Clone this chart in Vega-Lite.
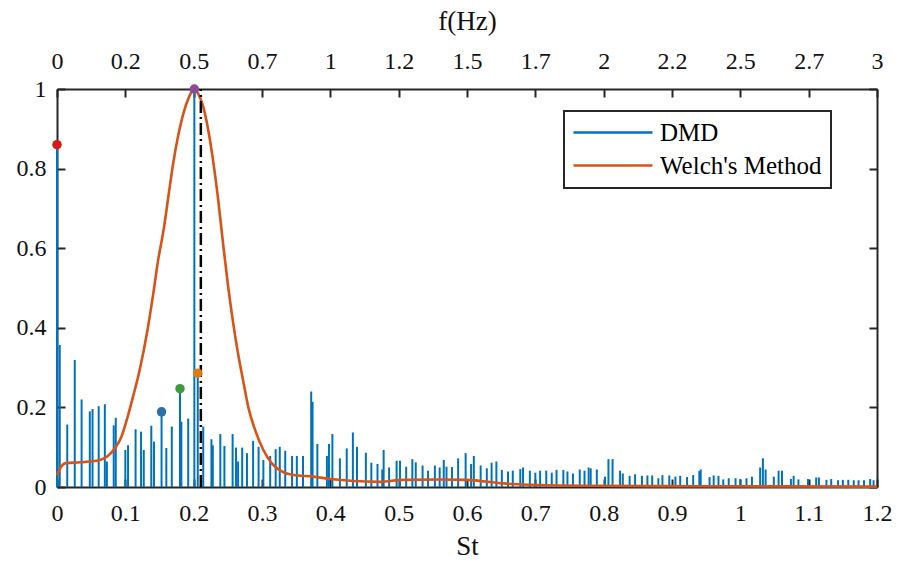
{
  "$schema": "https://vega.github.io/schema/vega-lite/v6.json",
  "width": 820,
  "height": 398,
  "autosize": "none",
  "padding": {"left": 57, "top": 89, "right": 20, "bottom": 78},
  "background": "white",
  "config": {
    "font": "Liberation Serif",
    "view": {"stroke": null},
    "legend": {"strokeWidth": 2},
    "axis": {
      "grid": false,
      "labelFlush": false,
      "domainColor": "#262626",
      "domainWidth": 2,
      "tickColor": "#262626",
      "tickWidth": 2,
      "tickSize": -8,
      "labelFont": "Liberation Serif",
      "labelFontSize": 24,
      "labelColor": "#111111",
      "titleFont": "Liberation Serif",
      "titleFontSize": 27,
      "titleFontWeight": "normal",
      "titleColor": "#111111"
    }
  },
  "datasets": {
    "dmd": [
      {"St": 0.000, "amp": 0.86}, {"St": 0.004, "amp": 0.357}, {"St": 0.015, "amp": 0.157}, {"St": 0.026, "amp": 0.319},
      {"St": 0.036, "amp": 0.22}, {"St": 0.048, "amp": 0.19}, {"St": 0.052, "amp": 0.196}, {"St": 0.061, "amp": 0.203},
      {"St": 0.070, "amp": 0.208}, {"St": 0.073, "amp": 0.064}, {"St": 0.083, "amp": 0.155}, {"St": 0.086, "amp": 0.174},
      {"St": 0.100, "amp": 0.093}, {"St": 0.104, "amp": 0.105}, {"St": 0.115, "amp": 0.145}, {"St": 0.123, "amp": 0.139},
      {"St": 0.127, "amp": 0.093}, {"St": 0.138, "amp": 0.154}, {"St": 0.142, "amp": 0.114}, {"St": 0.153, "amp": 0.189},
      {"St": 0.160, "amp": 0.098}, {"St": 0.168, "amp": 0.152}, {"St": 0.180, "amp": 0.247}, {"St": 0.182, "amp": 0.164},
      {"St": 0.192, "amp": 0.172}, {"St": 0.201, "amp": 1.0}, {"St": 0.206, "amp": 0.286}, {"St": 0.214, "amp": 0.152},
      {"St": 0.226, "amp": 0.12}, {"St": 0.228, "amp": 0.105}, {"St": 0.239, "amp": 0.133}, {"St": 0.245, "amp": 0.103},
      {"St": 0.257, "amp": 0.133}, {"St": 0.262, "amp": 0.099}, {"St": 0.265, "amp": 0.064}, {"St": 0.271, "amp": 0.099},
      {"St": 0.278, "amp": 0.085}, {"St": 0.287, "amp": 0.116}, {"St": 0.295, "amp": 0.101}, {"St": 0.302, "amp": 0.068},
      {"St": 0.312, "amp": 0.078}, {"St": 0.320, "amp": 0.095}, {"St": 0.326, "amp": 0.101}, {"St": 0.334, "amp": 0.091},
      {"St": 0.344, "amp": 0.078}, {"St": 0.351, "amp": 0.078}, {"St": 0.360, "amp": 0.078}, {"St": 0.372, "amp": 0.24},
      {"St": 0.374, "amp": 0.214}, {"St": 0.381, "amp": 0.108}, {"St": 0.395, "amp": 0.078}, {"St": 0.398, "amp": 0.108},
      {"St": 0.403, "amp": 0.133}, {"St": 0.414, "amp": 0.072}, {"St": 0.424, "amp": 0.097}, {"St": 0.433, "amp": 0.137},
      {"St": 0.439, "amp": 0.101}, {"St": 0.452, "amp": 0.086}, {"St": 0.460, "amp": 0.061}, {"St": 0.469, "amp": 0.058},
      {"St": 0.476, "amp": 0.044}, {"St": 0.478, "amp": 0.093}, {"St": 0.486, "amp": 0.049}, {"St": 0.497, "amp": 0.066},
      {"St": 0.502, "amp": 0.066}, {"St": 0.511, "amp": 0.051}, {"St": 0.520, "amp": 0.07}, {"St": 0.525, "amp": 0.062},
      {"St": 0.535, "amp": 0.054}, {"St": 0.543, "amp": 0.041}, {"St": 0.553, "amp": 0.054}, {"St": 0.560, "amp": 0.049},
      {"St": 0.566, "amp": 0.068}, {"St": 0.570, "amp": 0.051}, {"St": 0.578, "amp": 0.05}, {"St": 0.587, "amp": 0.072},
      {"St": 0.598, "amp": 0.085}, {"St": 0.606, "amp": 0.058}, {"St": 0.610, "amp": 0.078}, {"St": 0.620, "amp": 0.054},
      {"St": 0.629, "amp": 0.047}, {"St": 0.636, "amp": 0.061}, {"St": 0.643, "amp": 0.064}, {"St": 0.651, "amp": 0.043},
      {"St": 0.660, "amp": 0.039}, {"St": 0.667, "amp": 0.041}, {"St": 0.678, "amp": 0.045}, {"St": 0.682, "amp": 0.049},
      {"St": 0.692, "amp": 0.041}, {"St": 0.700, "amp": 0.036}, {"St": 0.707, "amp": 0.041}, {"St": 0.716, "amp": 0.041},
      {"St": 0.724, "amp": 0.036}, {"St": 0.731, "amp": 0.043}, {"St": 0.741, "amp": 0.043}, {"St": 0.747, "amp": 0.039},
      {"St": 0.755, "amp": 0.034}, {"St": 0.765, "amp": 0.044}, {"St": 0.772, "amp": 0.041}, {"St": 0.778, "amp": 0.049},
      {"St": 0.781, "amp": 0.047}, {"St": 0.790, "amp": 0.044}, {"St": 0.802, "amp": 0.026}, {"St": 0.807, "amp": 0.07},
      {"St": 0.813, "amp": 0.07}, {"St": 0.824, "amp": 0.041}, {"St": 0.828, "amp": 0.034}, {"St": 0.838, "amp": 0.028},
      {"St": 0.846, "amp": 0.032}, {"St": 0.856, "amp": 0.028}, {"St": 0.864, "amp": 0.029}, {"St": 0.871, "amp": 0.029},
      {"St": 0.880, "amp": 0.022}, {"St": 0.886, "amp": 0.03}, {"St": 0.896, "amp": 0.029}, {"St": 0.905, "amp": 0.026},
      {"St": 0.912, "amp": 0.028}, {"St": 0.922, "amp": 0.025}, {"St": 0.931, "amp": 0.03}, {"St": 0.940, "amp": 0.04},
      {"St": 0.942, "amp": 0.044}, {"St": 0.955, "amp": 0.025}, {"St": 0.961, "amp": 0.029}, {"St": 0.968, "amp": 0.028},
      {"St": 0.975, "amp": 0.019}, {"St": 0.983, "amp": 0.022}, {"St": 0.993, "amp": 0.022}, {"St": 1.000, "amp": 0.02},
      {"St": 1.009, "amp": 0.022}, {"St": 1.017, "amp": 0.026}, {"St": 1.029, "amp": 0.049}, {"St": 1.033, "amp": 0.072},
      {"St": 1.037, "amp": 0.044}, {"St": 1.049, "amp": 0.026}, {"St": 1.056, "amp": 0.041}, {"St": 1.061, "amp": 0.041},
      {"St": 1.074, "amp": 0.02}, {"St": 1.078, "amp": 0.028}, {"St": 1.085, "amp": 0.019}, {"St": 1.099, "amp": 0.02},
      {"St": 1.111, "amp": 0.024}, {"St": 1.115, "amp": 0.024}, {"St": 1.126, "amp": 0.018}, {"St": 1.133, "amp": 0.02},
      {"St": 1.143, "amp": 0.017}, {"St": 1.150, "amp": 0.018}, {"St": 1.158, "amp": 0.018}, {"St": 1.166, "amp": 0.017},
      {"St": 1.173, "amp": 0.017}, {"St": 1.181, "amp": 0.017}, {"St": 1.190, "amp": 0.02}, {"St": 1.195, "amp": 0.017}
    ],
    "welch": [
      {"St": 0.000, "psd": 0.03}, {"St": 0.004, "psd": 0.045}, {"St": 0.013, "psd": 0.06}, {"St": 0.034, "psd": 0.062},
      {"St": 0.048, "psd": 0.064}, {"St": 0.063, "psd": 0.068}, {"St": 0.073, "psd": 0.076}, {"St": 0.085, "psd": 0.098},
      {"St": 0.094, "psd": 0.125}, {"St": 0.102, "psd": 0.168}, {"St": 0.111, "psd": 0.225}, {"St": 0.121, "psd": 0.294},
      {"St": 0.132, "psd": 0.39}, {"St": 0.141, "psd": 0.487}, {"St": 0.148, "psd": 0.57}, {"St": 0.156, "psd": 0.646},
      {"St": 0.163, "psd": 0.73}, {"St": 0.170, "psd": 0.813}, {"St": 0.177, "psd": 0.88}, {"St": 0.185, "psd": 0.939},
      {"St": 0.192, "psd": 0.975}, {"St": 0.197, "psd": 0.993}, {"St": 0.201, "psd": 1.0}, {"St": 0.206, "psd": 0.99},
      {"St": 0.214, "psd": 0.955}, {"St": 0.221, "psd": 0.9}, {"St": 0.229, "psd": 0.813}, {"St": 0.236, "psd": 0.72},
      {"St": 0.243, "psd": 0.612}, {"St": 0.250, "psd": 0.51}, {"St": 0.258, "psd": 0.41}, {"St": 0.265, "psd": 0.335},
      {"St": 0.273, "psd": 0.262}, {"St": 0.280, "psd": 0.2}, {"St": 0.290, "psd": 0.143}, {"St": 0.302, "psd": 0.093},
      {"St": 0.314, "psd": 0.06}, {"St": 0.329, "psd": 0.039}, {"St": 0.346, "psd": 0.03}, {"St": 0.375, "psd": 0.026},
      {"St": 0.400, "psd": 0.02}, {"St": 0.434, "psd": 0.015}, {"St": 0.473, "psd": 0.013}, {"St": 0.506, "psd": 0.018},
      {"St": 0.560, "psd": 0.019}, {"St": 0.600, "psd": 0.018}, {"St": 0.653, "psd": 0.009}, {"St": 0.702, "psd": 0.005},
      {"St": 0.795, "psd": 0.003}, {"St": 0.941, "psd": 0.002}, {"St": 1.2, "psd": 0.001}
    ],
    "peaks": [
      {"St": 0.000, "amp": 0.86, "peak": "P1"},
      {"St": 0.153, "amp": 0.189, "peak": "P2"},
      {"St": 0.180, "amp": 0.247, "peak": "P3"},
      {"St": 0.201, "amp": 1.0, "peak": "P4"},
      {"St": 0.206, "amp": 0.286, "peak": "P5"}
    ],
    "marker": [{"St": 0.2105}]
  },
  "layer": [
    {
      "data": {"name": "dmd"},
      "mark": {"type": "rule", "strokeWidth": 2},
      "encoding": {
        "x": {
          "field": "St", "type": "quantitative",
          "scale": {"domain": [0, 1.2], "nice": false, "zero": false},
          "axis": {"orient": "bottom", "title": "St", "values": [0, 0.1, 0.2, 0.3, 0.4, 0.5, 0.6, 0.7, 0.8, 0.9, 1, 1.1, 1.2], "format": "~g", "labelPadding": 22, "titlePadding": 8}
        },
        "y": {
          "field": "amp", "type": "quantitative",
          "scale": {"domain": [0, 1], "nice": false},
          "axis": {"orient": "left", "title": null, "values": [0, 0.2, 0.4, 0.6, 0.8, 1], "format": "~g", "labelPadding": 19}
        },
        "y2": {"datum": 0},
        "color": {
          "datum": "DMD", "type": "nominal",
          "scale": {"domain": ["DMD", "Welch's Method"], "range": ["#0072BD", "#D95319"]},
          "legend": {
            "title": null, "orient": "none", "legendX": 507, "legendY": 22,
            "padding": 9, "strokeColor": "#262626", "fillColor": "white",
            "symbolType": "M-7.9,0H0", "symbolSize": 400, "symbolStrokeWidth": 2.5,
            "symbolOffset": 67, "labelOffset": -5, "rowPadding": 7, "labelLimit": 400,
            "labelFont": "Liberation Serif", "labelFontSize": 25, "labelColor": "#000000"
          }
        }
      }
    },
    {
      "data": {"name": "welch"},
      "mark": {"type": "line", "strokeWidth": 2.6, "interpolate": "monotone"},
      "encoding": {
        "x": {
          "field": "St", "type": "quantitative",
          "axis": {"orient": "top", "title": "f(Hz)", "values": [0, 0.1, 0.2, 0.3, 0.4, 0.5, 0.6, 0.7, 0.8, 0.9, 1, 1.1, 1.2], "labelExpr": "format(floor(datum.value*25+0.001)/10, '~g')", "labelPadding": 24, "titlePadding": 14}
        },
        "y": {
          "field": "psd", "type": "quantitative",
          "axis": {"orient": "right", "title": null, "labels": false, "values": [0, 0.2, 0.4, 0.6, 0.8, 1]}
        },
        "color": {"datum": "Welch's Method", "type": "nominal"}
      }
    },
    {
      "data": {"name": "marker"},
      "mark": {"type": "rule", "color": "#000000", "strokeWidth": 2.5, "strokeDash": [12, 4, 2, 4]},
      "encoding": {
        "x": {"field": "St", "type": "quantitative", "axis": null},
        "y": {"datum": 0, "axis": null},
        "y2": {"datum": 1}
      }
    },
    {
      "data": {"name": "peaks"},
      "mark": {"type": "point", "filled": true, "size": 90, "opacity": 1},
      "encoding": {
        "x": {"field": "St", "type": "quantitative", "axis": null},
        "y": {"field": "amp", "type": "quantitative", "axis": null},
        "fill": {
          "field": "peak", "type": "nominal",
          "scale": {"domain": ["P1", "P2", "P3", "P4", "P5"], "range": ["#D7191C", "#2E6EA6", "#3E9A3E", "#8A4A9A", "#E07B10"]},
          "legend": null
        }
      }
    }
  ],
  "resolve": {"axis": {"x": "independent", "y": "independent"}}
}
